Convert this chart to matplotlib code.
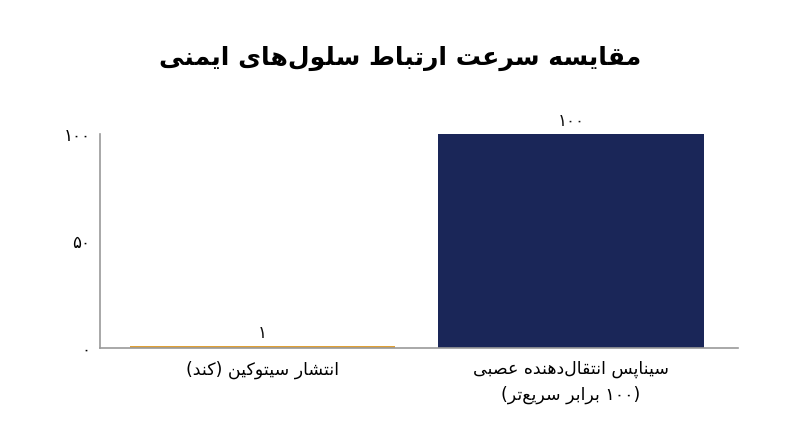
import re
import matplotlib
matplotlib.use('Agg')
import matplotlib.pyplot as plt

# chart data
title = 'مقایسه سرعت ارتباط سلول‌های ایمنی'
categories = ['انتشار سیتوکین (کند)', 'سیناپس انتقال‌دهنده عصبی\n(۱۰۰ برابر سریع‌تر)']
values = [1, 100]
value_labels = ['۱', '۱۰۰']
yticks = [0, 50, 100]
ytick_labels = ['۰', '۵۰', '۱۰۰']
colors = ['#E0A035', '#1A2658']

# presentation forms: isolated, final, initial, medial
FORMS = {
    'ا': ('\uFE8D', '\uFE8E'), 'آ': ('\uFE81', '\uFE82'),
    'ب': ('\uFE8F', '\uFE90', '\uFE91', '\uFE92'),
    'پ': ('\uFB56', '\uFB57', '\uFB58', '\uFB59'),
    'ت': ('\uFE95', '\uFE96', '\uFE97', '\uFE98'),
    'ث': ('\uFE99', '\uFE9A', '\uFE9B', '\uFE9C'),
    'ج': ('\uFE9D', '\uFE9E', '\uFE9F', '\uFEA0'),
    'چ': ('\uFB7A', '\uFB7B', '\uFB7C', '\uFB7D'),
    'ح': ('\uFEA1', '\uFEA2', '\uFEA3', '\uFEA4'),
    'خ': ('\uFEA5', '\uFEA6', '\uFEA7', '\uFEA8'),
    'د': ('\uFEA9', '\uFEAA'), 'ذ': ('\uFEAB', '\uFEAC'),
    'ر': ('\uFEAD', '\uFEAE'), 'ز': ('\uFEAF', '\uFEB0'),
    'ژ': ('\uFB8A', '\uFB8B'),
    'س': ('\uFEB1', '\uFEB2', '\uFEB3', '\uFEB4'),
    'ش': ('\uFEB5', '\uFEB6', '\uFEB7', '\uFEB8'),
    'ص': ('\uFEB9', '\uFEBA', '\uFEBB', '\uFEBC'),
    'ض': ('\uFEBD', '\uFEBE', '\uFEBF', '\uFEC0'),
    'ط': ('\uFEC1', '\uFEC2', '\uFEC3', '\uFEC4'),
    'ظ': ('\uFEC5', '\uFEC6', '\uFEC7', '\uFEC8'),
    'ع': ('\uFEC9', '\uFECA', '\uFECB', '\uFECC'),
    'غ': ('\uFECD', '\uFECE', '\uFECF', '\uFED0'),
    'ف': ('\uFED1', '\uFED2', '\uFED3', '\uFED4'),
    'ق': ('\uFED5', '\uFED6', '\uFED7', '\uFED8'),
    'ک': ('\uFB8E', '\uFB8F', '\uFB90', '\uFB91'),
    'گ': ('\uFB92', '\uFB93', '\uFB94', '\uFB95'),
    'ل': ('\uFEDD', '\uFEDE', '\uFEDF', '\uFEE0'),
    'م': ('\uFEE1', '\uFEE2', '\uFEE3', '\uFEE4'),
    'ن': ('\uFEE5', '\uFEE6', '\uFEE7', '\uFEE8'),
    'و': ('\uFEED', '\uFEEE'),
    'ه': ('\uFEE9', '\uFEEA', '\uFEEB', '\uFEEC'),
    'ی': ('\uFBFC', '\uFBFD', '\uFBFE', '\uFBFF'),
}
MIRROR = {'(': ')', ')': '('}


def shape_line(s):
    out = []
    for i, ch in enumerate(s):
        if ch not in FORMS:
            if ch != '\u200c':
                out.append(ch)
            continue
        prev = s[i - 1] if i > 0 else ''
        nxt = s[i + 1] if i + 1 < len(s) else ''
        pj = prev in FORMS and len(FORMS[prev]) == 4
        nj = len(FORMS[ch]) == 4 and nxt in FORMS
        f = FORMS[ch]
        if pj and nj:
            out.append(f[3])
        elif pj:
            out.append(f[1])
        elif nj:
            out.append(f[2])
        else:
            out.append(f[0])
    # right-to-left line: reverse, digits stay left to right, mirror brackets
    tokens = re.findall('[0-9۰-۹]+|.', ''.join(out))
    return ''.join(MIRROR.get(t, t) for t in reversed(tokens))


def fa(s):
    return '\n'.join(shape_line(l) for l in s.split('\n'))


plt.rcParams['font.family'] = ['DejaVu Sans']

fig = plt.figure(figsize=(8, 4.47), dpi=100)
ax = fig.add_axes([0.125, 0.2215, 0.7975, 0.4785])

x = list(range(len(categories)))
bars = ax.bar(x, values, width=0.86, color=colors)
for b, lab in zip(bars, value_labels):
    ax.annotate(fa(lab), (b.get_x() + b.get_width() / 2, b.get_height()),
                xytext=(0, 3), textcoords='offset points',
                ha='center', va='bottom', fontsize=12, color='#111111')

ax.set_xlim(-0.527, 1.541)
ax.set_ylim(0, 100)
ax.set_yticks(yticks)
ax.set_yticklabels([fa(t) for t in ytick_labels])
ax.set_xticks(x)
ax.set_xticklabels([fa(c) for c in categories], fontsize=12.5, linespacing=1.5)
ax.tick_params(axis='y', length=0, pad=7, labelsize=12)
ax.tick_params(axis='x', length=0, pad=9)

for sp in ['top', 'right']:
    ax.spines[sp].set_visible(False)
for sp in ['left', 'bottom']:
    ax.spines[sp].set_color('#9a9a9a')
    ax.spines[sp].set_linewidth(1.2)

fig.text(0.5, 0.87, fa(title), ha='center', va='center',
         fontsize=18, fontweight='bold', color='black')

fig.savefig('out.png', dpi=100)
